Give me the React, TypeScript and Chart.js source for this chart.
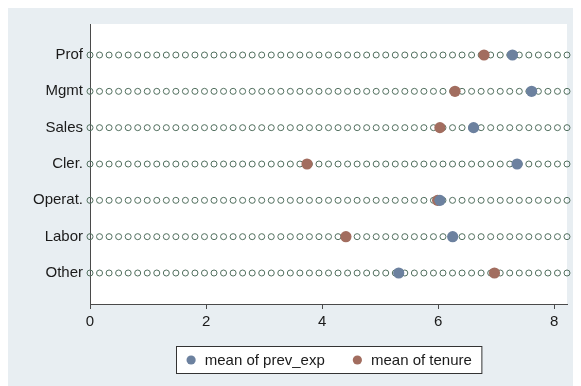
import React, { useEffect, useRef } from "react";
import { Chart, registerables } from "chart.js";

Chart.register(...registerables);

const categories = ["Prof", "Mgmt", "Sales", "Cler.", "Operat.", "Labor", "Other"];
const prevExp = [7.28, 7.61, 6.61, 7.36, 6.03, 6.25, 5.32];
const tenure = [6.79, 6.29, 6.03, 3.74, 5.99, 4.41, 6.97];
const xTicks = [0, 2, 4, 6, 8];
const xMin = 0;
const xMax = 8.22;
const seriesLabels = ["mean of prev_exp", "mean of tenure"];
const seriesColors = ["#6c819f", "#a26d5f"];
const guideDotCount = 51;

const FONT = "'Liberation Sans', Arial, Helvetica, sans-serif";
const AXIS_COLOR = "#4a4a4a";

const plotBgPlugin = {
  id: "plotBg",
  beforeDraw(chart: any) {
    const { ctx, chartArea } = chart;
    ctx.save();
    ctx.fillStyle = "#ffffff";
    ctx.fillRect(chartArea.left, chartArea.top, chartArea.right - chartArea.left, chartArea.bottom - chartArea.top);
    ctx.restore();
  },
};

const guideDotsPlugin = {
  id: "guideDots",
  beforeDatasetsDraw(chart: any) {
    const { ctx, chartArea } = chart;
    const yScale = chart.scales.y;
    ctx.save();
    ctx.strokeStyle = "#52705f";
    ctx.lineWidth = 1;
    const step = (chartArea.right - chartArea.left) / (guideDotCount - 1);
    categories.forEach((_, i) => {
      const py = yScale.getPixelForValue(i);
      for (let k = 0; k < guideDotCount; k++) {
        const px = chartArea.left + k * step;
        ctx.beginPath();
        ctx.arc(px, py, 3, 0, Math.PI * 2);
        ctx.stroke();
      }
    });
    ctx.restore();
  },
};

const boxLegendPlugin = {
  id: "boxLegend",
  afterDraw(chart: any) {
    const { ctx, chartArea } = chart;
    ctx.save();
    ctx.font = `15px ${FONT}`;
    const pad = 10;
    const markerR = 4.6;
    const gap = 9;
    const itemGap = 28;
    const widths = seriesLabels.map((l) => ctx.measureText(l).width);
    let total = pad * 2;
    widths.forEach((w, i) => {
      total += markerR * 2 + gap + w;
      if (i < widths.length - 1) total += itemGap;
    });
    const cx = (chartArea.left + chartArea.right) / 2;
    const boxLeft = Math.round(cx - total / 2) + 0.5;
    const boxTop = 338.5;
    const boxH = 27;
    ctx.fillStyle = "#ffffff";
    ctx.fillRect(boxLeft, boxTop, total, boxH);
    ctx.strokeStyle = "#333333";
    ctx.lineWidth = 1;
    ctx.strokeRect(boxLeft, boxTop, total, boxH);
    let x = boxLeft + pad;
    const cy = boxTop + boxH / 2;
    ctx.textBaseline = "middle";
    ctx.textAlign = "left";
    seriesLabels.forEach((l, i) => {
      ctx.fillStyle = seriesColors[i];
      ctx.beginPath();
      ctx.arc(x + markerR, cy, markerR, 0, Math.PI * 2);
      ctx.fill();
      x += markerR * 2 + gap;
      ctx.fillStyle = "#1a1a1a";
      ctx.fillText(l, x, cy + 0.5);
      x += widths[i] + itemGap;
    });
    ctx.restore();
  },
};

export default function App() {
  const canvasRef = useRef<HTMLCanvasElement | null>(null);

  useEffect(() => {
    if (!canvasRef.current) return;
    const chart = new Chart(canvasRef.current, {
      type: "scatter",
      data: {
        datasets: [
          {
            label: seriesLabels[0],
            data: prevExp.map((v, i) => ({ x: v, y: i })),
            backgroundColor: seriesColors[0],
            borderWidth: 0,
            pointRadius: 5.6,
          },
          {
            label: seriesLabels[1],
            data: tenure.map((v, i) => ({ x: v, y: i })),
            backgroundColor: seriesColors[1],
            borderWidth: 0,
            pointRadius: 5.6,
          },
        ],
      },
      options: {
        animation: false,
        responsive: false,
        maintainAspectRatio: false,
        layout: { padding: { left: 0, top: 16, right: 6, bottom: 42 } },
        plugins: {
          legend: { display: false },
          tooltip: { enabled: false },
        },
        scales: {
          x: {
            type: "linear",
            min: xMin,
            max: xMax,
            afterBuildTicks: (scale: any) => {
              scale.ticks = xTicks.map((v) => ({ value: v }));
            },
            afterFit: (scale: any) => {
              scale.height = 40;
            },
            grid: {
              drawOnChartArea: false,
              drawTicks: true,
              tickLength: 5,
              color: AXIS_COLOR,
            },
            border: { display: true, color: AXIS_COLOR, width: 1 },
            ticks: {
              padding: 4,
              color: "#1a1a1a",
              font: { family: FONT, size: 15 },
              maxRotation: 0,
            },
          },
          y: {
            type: "linear",
            reverse: true,
            min: -0.853,
            max: categories.length - 1 + 0.853,
            afterBuildTicks: (scale: any) => {
              scale.ticks = categories.map((_, i) => ({ value: i }));
            },
            afterFit: (scale: any) => {
              scale.width = 82;
            },
            grid: { drawOnChartArea: false, drawTicks: false },
            border: { display: true, color: AXIS_COLOR, width: 1 },
            ticks: {
              padding: 7,
              autoSkip: false,
              color: "#1a1a1a",
              font: { family: FONT, size: 15 },
              callback: (v: any) => categories[v as number] ?? "",
            },
          },
        },
      },
      plugins: [plotBgPlugin, guideDotsPlugin, boxLegendPlugin],
    });
    return () => chart.destroy();
  }, []);

  return (
    <div style={{ width: 565, height: 378, background: "#e8eef2" }}>
      <canvas ref={canvasRef} width={565} height={378} style={{ display: "block" }} />
    </div>
  );
}
